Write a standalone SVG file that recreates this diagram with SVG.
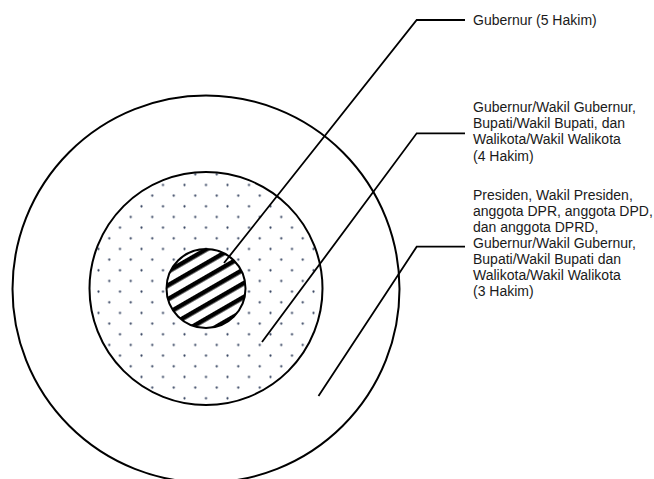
<svg xmlns="http://www.w3.org/2000/svg" width="654" height="479" viewBox="0 0 654 479">
<style>
.ring{fill:none;stroke:#000;stroke-width:2}
.lead{fill:none;stroke:#000;stroke-width:1.8;stroke-linejoin:miter}
.lbl{font-family:"Liberation Sans",Arial,sans-serif;font-size:14px;fill:#1a1a1a}
</style>
<defs>
<pattern id="dots" patternUnits="userSpaceOnUse" x="200.625" y="179.67" width="21.5" height="21.33">
<circle cx="5.375" cy="5.33" r="1.1" fill="#34425f"/>
<circle cx="16.125" cy="16" r="1.1" fill="#34425f"/>
</pattern>
<pattern id="hatch" patternUnits="userSpaceOnUse" width="12" height="12" patternTransform="translate(206 288.5) rotate(-30)">
<rect x="0" y="0" width="12" height="4.6" fill="#000"/>
</pattern>
</defs>
<rect width="654" height="479" fill="#fff"/>
<g id="outer-ring">
<circle cx="206" cy="289" r="193.5" class="ring" fill="#fff"/>
</g>
<g id="middle-ring">
<circle cx="206" cy="288.5" r="116.5" fill="url(#dots)"/>
<circle cx="206" cy="288.5" r="116.5" class="ring"/>
</g>
<g id="inner-core">
<circle cx="206" cy="288.5" r="39.5" fill="#fff"/>
<circle cx="206" cy="288.5" r="39.5" fill="url(#hatch)"/>
<circle cx="206" cy="288.5" r="39.5" class="ring"/>
</g>
<g id="connectors">
<polyline class="lead" points="224,263 416.7,20 465,20"/>
<polyline class="lead" points="262,342 416.7,133.3 465,133.3"/>
<polyline class="lead" points="318.5,396 416.7,246.7 465,246.7"/>
</g>
<g id="label-5-hakim">
<text class="lbl" x="473" y="25">Gubernur (5 Hakim)</text>
</g>
<g id="label-4-hakim">
<text class="lbl" x="473" y="112">Gubernur/Wakil Gubernur,</text>
<text class="lbl" x="473" y="128">Bupati/Wakil Bupati, dan</text>
<text class="lbl" x="473" y="143.8">Walikota/Wakil Walikota</text>
<text class="lbl" x="473" y="161">(4 Hakim)</text>
</g>
<g id="label-3-hakim">
<text class="lbl" x="473" y="200">Presiden, Wakil Presiden,</text>
<text class="lbl" x="473" y="216">anggota DPR, anggota DPD,</text>
<text class="lbl" x="473" y="232">dan anggota DPRD,</text>
<text class="lbl" x="473" y="248">Gubernur/Wakil Gubernur,</text>
<text class="lbl" x="473" y="264">Bupati/Wakil Bupati dan</text>
<text class="lbl" x="473" y="280">Walikota/Wakil Walikota</text>
<text class="lbl" x="473" y="296">(3 Hakim)</text>
</g>
</svg>
